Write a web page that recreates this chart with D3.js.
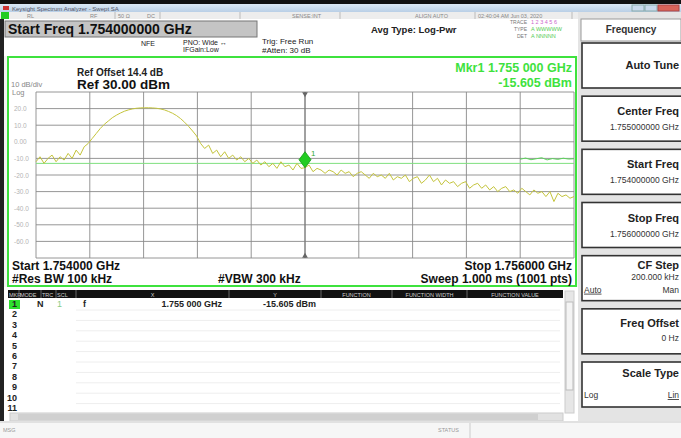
<!DOCTYPE html>
<html>
<head>
<meta charset="utf-8">
<script src="https://cdn.jsdelivr.net/npm/d3@7"></script>
<style>
  body { margin: 0; background: #f2f2f2; }
  svg { display: block; font-family: "Liberation Sans", Arial, sans-serif; }
</style>
</head>
<body>
<div id="screen"></div>
<script>
// sweep settings
const startMHz = 1754;
const stopMHz = 1756;
const refLevel = 30;
const bottomLevel = -70;
const yTickLabels = ["20.0", "10.0", "0.00", "-10.0", "-20.0", "-30.0", "-40.0", "-50.0", "-60.0"];

// trace 1, dBm, evenly spaced points across the span (index 67 = centre)
const traceLevels = [
  -12, -9, -13, -10, -8, -12, -9, -11, -7, -10, -5, -8, -3, -1,
  2, 5, 8, 10.5, 12.5, 14.5, 16, 17.3, 18.4, 19.2, 19.8, 20.2, 20.4, 20.5,
  20.5, 20.4, 20.2, 19.8, 19.2, 18.3, 17.2, 15.8, 14, 11.8, 9.3, 6.5, 3.5,
  -1, -4, -2, -7, -5, -9, -6, -10, -8, -11, -9, -12, -10, -13, -11, -14,
  -12, -15, -13, -16, -12, -15, -14, -17, -13, -16, -15.605, -14, -18, -16,
  -17, -19, -17, -18, -20, -17, -19, -18, -21, -19, -18, -20, -22, -19,
  -21, -20, -22, -19, -23, -21, -22, -20, -24, -22, -21, -25, -23, -20,
  -24, -22, -26, -23, -25, -24, -27, -25, -24, -28, -26, -25, -28, -26,
  -29, -27, -30, -28, -27, -30, -29, -31, -28, -30, -32, -29, -31, -30,
  -33, -30, -36, -31, -33, -32, -34, -33
];
// short green trace segment at the right edge
const trace2Freqs = [1755.80, 1755.82, 1755.84, 1755.86, 1755.88, 1755.90, 1755.92, 1755.94, 1755.96, 1755.98, 1756.0];
const trace2Levels = [-10.5, -9.8, -10.8, -10.2, -9.6, -10.9, -10.1, -10.6, -9.9, -10.4, -10.2];
const displayLine = -13;
const markerFreq = 1755;
const markerLevel = -15.605;

const menuTitles = ["Auto Tune", "Center Freq", "Start Freq", "Stop Freq", "CF Step", "Freq Offset", "Scale Type"];
const menuValues = ["", "1.755000000 GHz", "1.754000000 GHz", "1.756000000 GHz", "200.000 kHz", "0 Hz", ""];
const tableCols = ["MKR", "MODE", "TRC", "SCL", "X", "Y", "FUNCTION", "FUNCTION WIDTH", "FUNCTION VALUE"];
const tableColEdges = [8, 19, 41, 56, 76, 229, 321, 392, 467, 563];
const tableRow1 = ["1", "N", "1", "f", "1.755 000 GHz", "-15.605 dBm"];

const W = 681, H = 438;
const svg = d3.select("#screen").append("svg").attr("width", W).attr("height", H);
svg.append("rect").attr("width", W).attr("height", H).attr("fill", "#f4f4f4");

// ---- window chrome ----
svg.append("rect").attr("x", 0).attr("y", 0).attr("width", W).attr("height", 4).attr("fill", "#111");
let tg = svg.append("defs").append("linearGradient").attr("id", "tbar").attr("x1", 0).attr("x2", 0).attr("y1", 0).attr("y2", 1);
tg.append("stop").attr("offset", 0).attr("stop-color", "#dbe8f5");
tg.append("stop").attr("offset", 1).attr("stop-color", "#b9cfe6");
svg.append("rect").attr("x", 0).attr("y", 4).attr("width", W).attr("height", 8).attr("fill", "url(#tbar)");
svg.append("rect").attr("x", 3).attr("y", 6).attr("width", 6).attr("height", 4).attr("fill", "#c33");
svg.append("text").attr("x", 12).attr("y", 10.5).attr("font-size", 6).attr("fill", "#556")
  .text("Keysight Spectrum Analyzer - Swept SA");
svg.append("rect").attr("x", 632).attr("y", 5).attr("width", 12).attr("height", 6).attr("fill", "#c9d9ec").attr("stroke", "#8aa");
svg.append("rect").attr("x", 645).attr("y", 5).attr("width", 12).attr("height", 6).attr("fill", "#c9d9ec").attr("stroke", "#8aa");
svg.append("rect").attr("x", 658).attr("y", 5).attr("width", 21).attr("height", 6).attr("fill", "#d8645a").attr("stroke", "#a44");

// status row
svg.append("rect").attr("x", 0).attr("y", 12).attr("width", 578).attr("height", 7).attr("fill", "#ededed");
svg.append("rect").attr("x", 1).attr("y", 12).attr("width", 8).attr("height", 7).attr("fill", "#2c2");
const statusItems = [[27, "RL"], [90, "RF"], [118, "50 Ω"], [147, "DC"], [292, "SENSE:INT"], [415, "ALIGN AUTO"], [478, "02:40:04 AM Jun 03, 2020"]];
svg.selectAll("text.status").data(statusItems).join("text").attr("class", "status")
  .attr("x", d => d[0]).attr("y", 17.5).attr("font-size", 5.5).attr("fill", "#888").text(d => d[1]);
[[115, 12], [160, 12], [240, 12], [340, 12], [475, 12], [572, 12]].forEach(d => {
  svg.append("line").attr("x1", d[0]).attr("x2", d[0]).attr("y1", d[1]).attr("y2", d[1] + 7).attr("stroke", "#bbb");
});

// left dark edge
svg.append("rect").attr("x", 0).attr("y", 19).attr("width", 4).attr("height", 402).attr("fill", "#222");

// header area
svg.append("rect").attr("x", 4).attr("y", 19).attr("width", 574).attr("height", 37).attr("fill", "#fff");
svg.append("rect").attr("x", 5).attr("y", 21).attr("width", 252).attr("height", 16).attr("fill", "#c4c4c4").attr("stroke", "#777");
svg.append("text").attr("x", 8).attr("y", 34).attr("font-size", 14).attr("font-weight", "bold").attr("fill", "#111")
  .text("Start Freq 1.754000000 GHz");
const hdr = [[141, 46, "NFE", 7], [183, 45, "PNO: Wide ↔", 7], [183, 52, "IFGain:Low", 7], [262, 43.5, "Trig: Free Run", 8], [262, 52.5, "#Atten: 30 dB", 8]];
hdr.forEach(d => svg.append("text").attr("x", d[0]).attr("y", d[1]).attr("font-size", d[3]).attr("fill", "#222").text(d[2]));
svg.append("text").attr("x", 371).attr("y", 33).attr("font-size", 9.5).attr("font-weight", "bold").attr("fill", "#222").text("Avg Type: Log-Pwr");
[["TRACE", 24], ["TYPE", 31], ["DET", 38]].forEach(d => {
  svg.append("text").attr("x", 527).attr("y", d[1]).attr("text-anchor", "end").attr("font-size", 5).attr("fill", "#777").text(d[0]);
});
svg.append("text").attr("x", 531).attr("y", 24).attr("font-size", 5.5).attr("fill", "#c6c").text("1 2 3 4 5 6");
svg.append("text").attr("x", 531).attr("y", 31).attr("font-size", 5.5).attr("fill", "#5c5").text("A WWWWW");
svg.append("text").attr("x", 531).attr("y", 38).attr("font-size", 5.5).attr("fill", "#5c5").text("A NNNNN");

// ---- plot ----
const x = d3.scaleLinear().domain([startMHz, stopMHz]).range([36, 574]);
const y = d3.scaleLinear().domain([bottomLevel, refLevel]).range([258, 92]);

svg.append("rect").attr("x", 8).attr("y", 57).attr("width", 568).attr("height", 229)
  .attr("fill", "#fff").attr("stroke", "#3ee23e").attr("stroke-width", 2);

svg.append("g").selectAll("line").data(d3.range(11)).join("line")
  .attr("x1", d => x(startMHz + d * (stopMHz - startMHz) / 10)).attr("x2", d => x(startMHz + d * (stopMHz - startMHz) / 10))
  .attr("y1", y(refLevel)).attr("y2", y(bottomLevel)).attr("stroke", "#8a8a8a").attr("stroke-width", 0.9);
svg.append("g").selectAll("line").data(d3.range(11)).join("line")
  .attr("x1", x(startMHz)).attr("x2", x(stopMHz))
  .attr("y1", d => y(refLevel - d * 10)).attr("y2", d => y(refLevel - d * 10)).attr("stroke", "#8a8a8a").attr("stroke-width", 0.9);

svg.selectAll("text.ytick").data(yTickLabels).join("text").attr("class", "ytick")
  .attr("x", 14).attr("y", (d, i) => y(refLevel - (i + 1) * 10) + 2.5)
  .attr("font-size", 6.5).attr("fill", "#b4b4b4").text(d => d);
svg.append("text").attr("x", 11).attr("y", 87).attr("font-size", 7.5).attr("fill", "#888").text("10 dB/div");
svg.append("text").attr("x", 12).attr("y", 95).attr("font-size", 7.5).attr("fill", "#888").text("Log");
svg.append("text").attr("x", 77).attr("y", 76).attr("font-size", 10).attr("font-weight", "bold").attr("fill", "#222").text("Ref Offset 14.4 dB");
svg.append("text").attr("x", 77).attr("y", 89).attr("font-size", 13.5).attr("font-weight", "bold").attr("fill", "#111").text("Ref 30.00 dBm");
svg.append("text").attr("x", 572).attr("y", 72).attr("text-anchor", "end").attr("font-size", 12.5).attr("font-weight", "bold").attr("fill", "#3ee23e").text("Mkr1 1.755 000 GHz");
svg.append("text").attr("x", 572).attr("y", 87).attr("text-anchor", "end").attr("font-size", 12.5).attr("font-weight", "bold").attr("fill", "#3ee23e").text("-15.605 dBm");

// display line
svg.append("line").attr("x1", x(startMHz)).attr("x2", x(stopMHz)).attr("y1", y(displayLine)).attr("y2", y(displayLine))
  .attr("stroke", "#7fe07f").attr("stroke-width", 1);

// marker vertical
svg.append("line").attr("x1", x(markerFreq)).attr("x2", x(markerFreq)).attr("y1", y(refLevel)).attr("y2", y(bottomLevel))
  .attr("stroke", "#777").attr("stroke-width", 1);
svg.append("path").attr("d", d3.symbol(d3.symbolTriangle, 14)()).attr("transform", `translate(${x(markerFreq)},${y(refLevel) + 2}) rotate(180)`).attr("fill", "#666");
svg.append("path").attr("d", d3.symbol(d3.symbolTriangle, 14)()).attr("transform", `translate(${x(markerFreq)},${y(bottomLevel) - 2})`).attr("fill", "#666");

const step = (stopMHz - startMHz) / (traceLevels.length - 1);
const line = d3.line().x((d, i) => x(startMHz + i * step)).y(d => y(d));
svg.append("path").datum(traceLevels).attr("d", line).attr("fill", "none").attr("stroke", "#c4c43c").attr("stroke-width", 1);

const line2 = d3.line().x((d, i) => x(trace2Freqs[i])).y(d => y(d));
svg.append("path").datum(trace2Levels).attr("d", line2).attr("fill", "none").attr("stroke", "#5bd65b").attr("stroke-width", 1);

// marker diamond
const mx = x(markerFreq), my = y(markerLevel);
svg.append("path").attr("d", `M${mx},${my} l-6,-8 l6,-8 l6,8 z`).attr("fill", "#22cc22").attr("stroke", "#119911").attr("stroke-width", 0.8);
svg.append("text").attr("x", mx + 6).attr("y", my - 12).attr("font-size", 8).attr("fill", "#3a3").text("1");

// bottom annotations
const foot = [[12, 270, "Start 1.754000 GHz", "start"], [12, 283, "#Res BW 100 kHz", "start"], [218, 283, "#VBW 300 kHz", "start"],
  [572, 270, "Stop 1.756000 GHz", "end"], [572, 283, "Sweep  1.000 ms (1001 pts)", "end"]];
foot.forEach(d => svg.append("text").attr("x", d[0]).attr("y", d[1]).attr("text-anchor", d[3])
  .attr("font-size", 12).attr("font-weight", "bold").attr("fill", "#111").text(d[2]));

// ---- marker table ----
svg.append("rect").attr("x", 4).attr("y", 287).attr("width", 574).attr("height", 134).attr("fill", "#fff");
svg.append("rect").attr("x", 8).attr("y", 290).attr("width", 555).attr("height", 8).attr("fill", "#111");
svg.selectAll("text.col").data(tableCols).join("text").attr("class", "col")
  .attr("x", (d, i) => i < 4 ? tableColEdges[i] + 1 : (tableColEdges[i] + tableColEdges[i + 1]) / 2)
  .attr("text-anchor", (d, i) => i < 4 ? "start" : "middle")
  .attr("y", 296.5).attr("font-size", 5.5).attr("fill", "#ccc").text(d => d);
tableColEdges.slice(1, -1).forEach(e => {
  svg.append("line").attr("x1", e).attr("x2", e).attr("y1", 290).attr("y2", 298).attr("stroke", "#666");
});
const rowY = d3.scaleLinear().domain([1, 11]).range([307, 411]);
svg.append("rect").attr("x", 9).attr("y", 300).attr("width", 11).attr("height", 9).attr("fill", "#2ee02e");
svg.selectAll("text.row").data(d3.range(1, 12)).join("text").attr("class", "row")
  .attr("x", 17).attr("y", d => rowY(d)).attr("text-anchor", "end").attr("font-size", 9).attr("font-weight", "bold").attr("fill", "#222").text(d => d);
svg.selectAll("line.rowsep").data(d3.range(1, 11)).join("line").attr("class", "rowsep")
  .attr("x1", 76).attr("x2", 560).attr("y1", d => rowY(d) + 3).attr("y2", d => rowY(d) + 3).attr("stroke", "#eee");
svg.append("text").attr("x", 37).attr("y", rowY(1)).attr("font-size", 9).attr("font-weight", "bold").attr("fill", "#222").text(tableRow1[1]);
svg.append("text").attr("x", 57).attr("y", rowY(1)).attr("font-size", 9).attr("fill", "#8c8").text(tableRow1[2]);
svg.append("text").attr("x", 83).attr("y", rowY(1)).attr("font-size", 9).attr("font-weight", "bold").attr("fill", "#222").text(tableRow1[3]);
svg.append("text").attr("x", 222).attr("y", rowY(1)).attr("text-anchor", "end").attr("font-size", 9).attr("font-weight", "bold").attr("fill", "#222").text(tableRow1[4]);
svg.append("text").attr("x", 316).attr("y", rowY(1)).attr("text-anchor", "end").attr("font-size", 9).attr("font-weight", "bold").attr("fill", "#222").text(tableRow1[5]);

// scrollbars
svg.append("rect").attr("x", 565).attr("y", 291).attr("width", 9).attr("height", 122).attr("fill", "#e6e6e6").attr("stroke", "#ccc");
svg.append("rect").attr("x", 566).attr("y", 302).attr("width", 7).attr("height", 88).attr("fill", "#f4f4f4").attr("stroke", "#bbb");
svg.append("rect").attr("x", 10).attr("y", 413).attr("width", 553).attr("height", 8).attr("fill", "#e2e2e2").attr("stroke", "#ccc");
svg.append("rect").attr("x", 18).attr("y", 414).attr("width", 520).attr("height", 6).attr("fill", "#d0d0d0");

// message bar
svg.append("rect").attr("x", 0).attr("y", 421).attr("width", W).attr("height", 17).attr("fill", "#f6f6f6");
svg.append("line").attr("x1", 0).attr("x2", W).attr("y1", 422).attr("y2", 422).attr("stroke", "#ccc");
svg.append("text").attr("x", 3).attr("y", 432).attr("font-size", 5.5).attr("fill", "#999").text("MSG");
svg.append("text").attr("x", 438).attr("y", 432).attr("font-size", 5.5).attr("fill", "#999").text("STATUS");
svg.append("line").attr("x1", 470).attr("x2", 470).attr("y1", 423).attr("y2", 438).attr("stroke", "#ccc");

// ---- softkey panel ----
svg.append("rect").attr("x", 578).attr("y", 12).attr("width", 103).attr("height", 409).attr("fill", "#e4e4e4");
svg.append("rect").attr("x", 581).attr("y", 19).attr("width", 100).attr("height", 22).attr("fill", "#fff").attr("stroke", "#999");
svg.append("text").attr("x", 631).attr("y", 33).attr("text-anchor", "middle").attr("font-size", 10).attr("font-weight", "bold").attr("fill", "#333").text("Frequency");
const keyTop = d3.scaleLinear().domain([0, 6]).range([43, 362]);
const titleY = [26, 19, 19, 19, 13, 18, 15];
const valueY = [0, 34, 34, 34, 24, 32, 0];
const keys = svg.selectAll("g.key").data(menuTitles).join("g").attr("class", "key")
  .attr("transform", (d, i) => `translate(582,${keyTop(i)})`);
keys.append("rect").attr("width", 100).attr("height", 45).attr("fill", "#fff").attr("stroke", "#333").attr("stroke-width", 1.6);
keys.append("text").attr("x", 97).attr("y", (d, i) => titleY[i])
  .attr("text-anchor", "end").attr("font-size", 11).attr("font-weight", "bold").attr("fill", "#222").text(d => d);
keys.append("text").attr("x", 97).attr("y", (d, i) => valueY[i])
  .attr("text-anchor", "end").attr("font-size", 8.5).attr("fill", "#333").text((d, i) => menuValues[i]);
svg.append("text").attr("x", 584).attr("y", keyTop(4) + 37).attr("font-size", 8.5).attr("fill", "#333").attr("text-decoration", "underline").text("Auto");
svg.append("text").attr("x", 679).attr("y", keyTop(4) + 37).attr("text-anchor", "end").attr("font-size", 8.5).attr("fill", "#333").text("Man");
svg.append("text").attr("x", 584).attr("y", keyTop(6) + 36).attr("font-size", 8.5).attr("fill", "#333").text("Log");
svg.append("text").attr("x", 679).attr("y", keyTop(6) + 36).attr("text-anchor", "end").attr("font-size", 8.5).attr("fill", "#333").attr("text-decoration", "underline").text("Lin");
</script>
</body>
</html>
